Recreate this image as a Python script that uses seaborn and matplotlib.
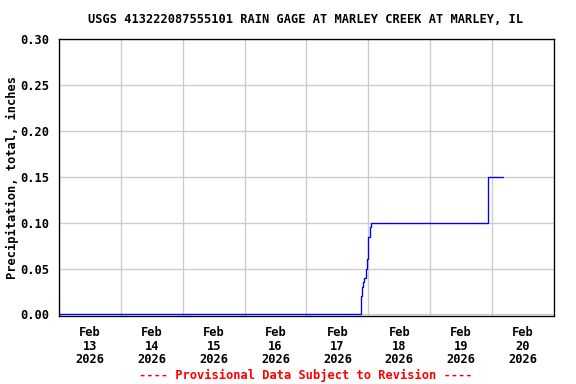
import pandas as pd
import seaborn as sns
import matplotlib.pyplot as plt
import matplotlib.dates as mdates
from matplotlib.ticker import FormatStrFormatter

# cumulative precipitation readings (inches)
times = ["2026-02-13 00:00", "2026-02-17 21:00", "2026-02-17 21:30", "2026-02-17 21:45",
         "2026-02-17 22:30", "2026-02-17 23:15", "2026-02-17 23:30", "2026-02-17 23:45",
         "2026-02-18 00:00", "2026-02-18 00:30", "2026-02-18 01:00", "2026-02-19 22:15",
         "2026-02-20 04:15"]
precip = [0.00, 0.02, 0.03, 0.035, 0.04, 0.05, 0.06, 0.07, 0.085, 0.095, 0.10, 0.15, 0.15]

title = "USGS 413222087555101 RAIN GAGE AT MARLEY CREEK AT MARLEY, IL"
ylabel = "Precipitation, total, inches"
footer = "---- Provisional Data Subject to Revision ----"

df = pd.DataFrame({"time": pd.to_datetime(times), "precip": precip})

sns.set_style("white")
plt.rcParams["font.family"] = ["DejaVu Sans Mono"]
plt.rcParams["font.weight"] = "bold"
plt.rcParams["font.size"] = 9
plt.rcParams["text.color"] = "black"
plt.rcParams["axes.labelcolor"] = "black"
plt.rcParams["xtick.color"] = "black"
plt.rcParams["ytick.color"] = "black"

fig = plt.figure(figsize=(6, 4), dpi=96)
ax = fig.add_axes([0.1024, 0.178, 0.8594, 0.7192])

sns.lineplot(data=df, x="time", y="precip", drawstyle="steps-post",
             color="#0000ff", linewidth=1.0, ax=ax)

ax.set_xlim(pd.Timestamp("2026-02-13"), pd.Timestamp("2026-02-21"))
ax.set_ylim(-0.0013, 0.30)
ax.set_yticks([0, 0.05, 0.10, 0.15, 0.20, 0.25, 0.30])
ax.yaxis.set_major_formatter(FormatStrFormatter("%.2f"))

# labels at noon, grid at midnight
ax.xaxis.set_major_locator(mdates.HourLocator(byhour=[12]))
ax.xaxis.set_major_formatter(mdates.DateFormatter("%b\n%d\n%Y"))
ax.xaxis.set_minor_locator(mdates.DayLocator())
ax.grid(which="minor", axis="x", color="#cccccc", linewidth=1)
ax.grid(which="major", axis="y", color="#cccccc", linewidth=1)
ax.tick_params(axis="x", which="both", length=0, pad=8)
ax.tick_params(axis="y", length=4, color="#bbbbbb", labelcolor="black", pad=3)
for lab in ax.get_xticklabels():
    lab.set_linespacing(1.05)

for s in ax.spines.values():
    s.set_color("black")
    s.set_linewidth(1)

ax.set_xlabel("")
ax.set_ylabel("")
fig.text(0.021, 0.5375, ylabel, rotation=90, ha="center", va="center")
fig.text(0.53, 0.95, title, ha="center", va="center")
fig.text(0.53, 0.022, footer, ha="center", va="center", color="red")

fig.savefig("out.png", dpi=96)
